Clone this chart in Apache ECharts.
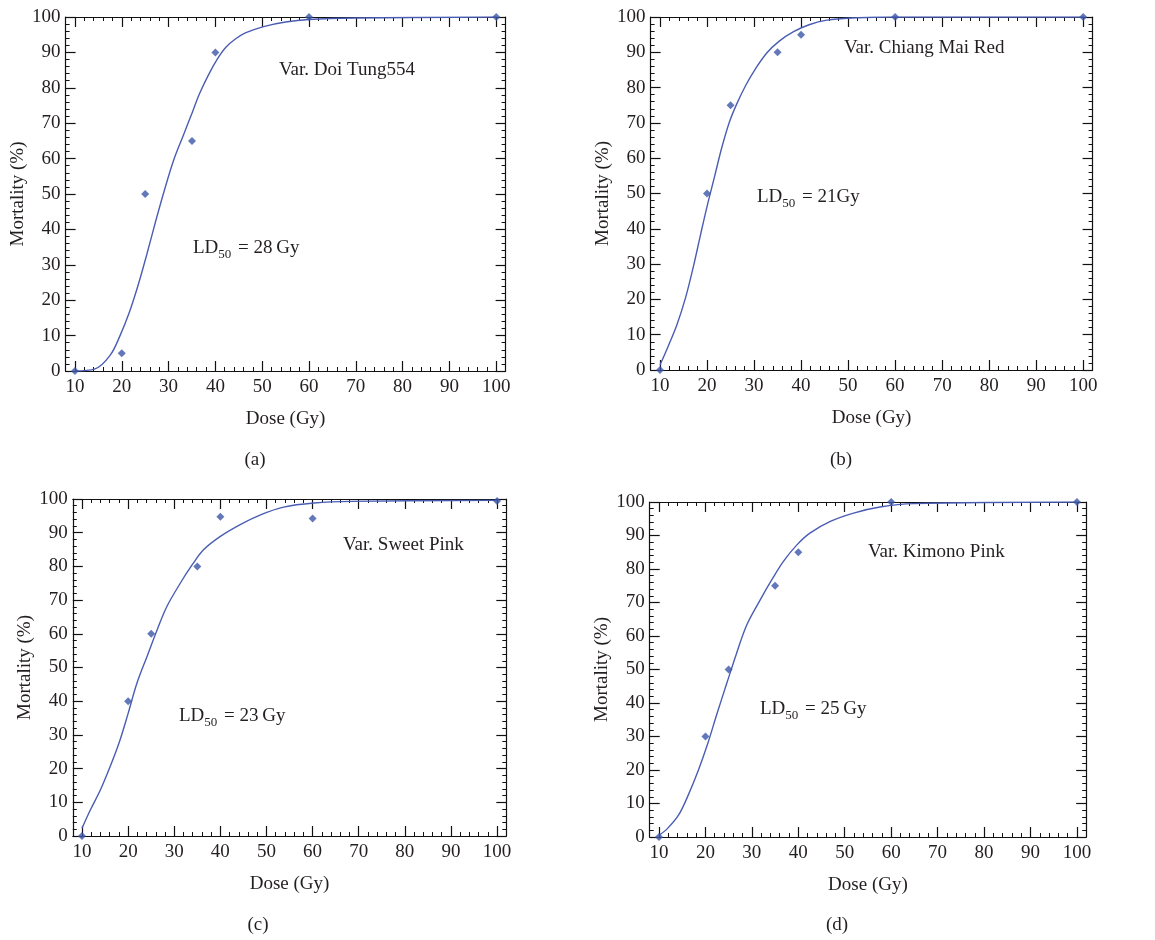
<!DOCTYPE html>
<html>
<head>
<meta charset="utf-8">
<script src="https://cdn.jsdelivr.net/npm/echarts@6/dist/echarts.min.js"></script>
<style>
html,body{margin:0;padding:0;background:#fff;}
#chart{width:1155px;height:940px;}
</style>
</head>
<body>
<div id="chart"></div>
<script>
// ---------- data ----------
const doses = [10, 20, 25, 35, 40, 60, 100];
const mortA = [0, 5, 50, 65, 90, 100, 100];
const mortB = [0, 50, 75, 90, 95, 100, 100];
const dosesC = [10, 20, 25, 35, 40, 60, 100];
const mortC = [0, 40, 60, 80, 94.7, 94.2, 99.4];
const mortD = [0, 30, 50, 75, 85, 100, 100];

// fitted curves
const curveAx = [10, 14.3, 17.5, 19.7, 21.6, 23.5, 25.4, 27.3, 29.2, 31.1, 33.1, 35, 36.6, 38.5, 40.5, 42.2, 44.2, 46.4, 50.3, 55, 60, 70, 100];
const curveAy = [0, 0.6, 4.4, 10.2, 16.5, 24.3, 33.2, 42.6, 51.5, 59.6, 66.4, 72.8, 78.3, 83.6, 88.3, 91.4, 93.7, 95.5, 97.3, 98.6, 99.3, 99.7, 100];
const curveBx = [10, 11.7, 13.6, 15.5, 17.1, 18.7, 20, 21.6, 23.2, 24.8, 26.4, 28.3, 30.2, 32.7, 35.3, 38.5, 41.7, 45.5, 50.6, 60, 100];
const curveBy = [1.4, 6.6, 12.8, 20.8, 29.3, 38.8, 46.3, 54.8, 63.3, 70.4, 75.6, 80.8, 85.1, 89.8, 93.1, 95.9, 97.8, 99.1, 99.7, 100, 100];
const curveCx = [10, 11.8, 14, 16.1, 18, 20, 21.9, 24.1, 26.3, 28.4, 31.3, 33.9, 36.4, 40, 44.3, 48.7, 53.7, 60.3, 68.2, 100];
const curveCy = [2.3, 7.7, 13.7, 20.6, 27.5, 36.4, 45.3, 53.3, 61.2, 68.1, 75, 80.5, 85, 88.9, 92.4, 95.3, 97.6, 98.8, 99.3, 99.6];
const curveDx = [10, 11.8, 14.2, 16.3, 18.5, 20.5, 22.4, 24.6, 26.7, 28.9, 31.8, 34.3, 36.8, 39.7, 42.5, 46.9, 51.9, 57.6, 64.8, 100];
const curveDy = [0.5, 2.5, 6.5, 12.5, 20, 27.9, 36.4, 45.9, 54.8, 63.3, 70.8, 76.8, 82.3, 87.2, 90.7, 94.2, 96.7, 98.5, 99.5, 100];

const xTicks = [10, 20, 30, 40, 50, 60, 70, 80, 90, 100];
const varieties = ['Var. Doi Tung554', 'Var. Chiang Mai Red', 'Var. Sweet Pink', 'Var. Kimono Pink'];
const ldValues = ['28\u2009Gy', '21Gy', '23\u2009Gy', '25\u2009Gy'];
const captions = ['(a)', '(b)', '(c)', '(d)'];
const xName = 'Dose (Gy)';
const yName = 'Mortality (%)';

// ---------- layout ----------
const FONT = '"Liberation Serif", "DejaVu Serif", serif';
const FS = 19;
const TXT = '#231f20';
const MARK = '#3b56a8';
const LINE = '#4a5db3';

const panels = [
  {grid: {left: 65.6, top: 17, width: 440, height: 354}, pts: [doses, mortA], cur: [curveAx, curveAy],
   varPos: [279, 70], ldPos: [193, 248], capPos: [255, 460]},
  {grid: {left: 650.6, top: 17, width: 442, height: 353}, pts: [doses, mortB], cur: [curveBx, curveBy],
   varPos: [844, 48], ldPos: [757, 197], capPos: [841, 460]},
  {grid: {left: 72.8, top: 499, width: 433.5, height: 337}, pts: [dosesC, mortC], cur: [curveCx, curveCy],
   varPos: [343, 545], ldPos: [179, 716], capPos: [258, 925]},
  {grid: {left: 649.7, top: 502, width: 436.5, height: 335}, pts: [doses, mortD], cur: [curveDx, curveDy],
   varPos: [868, 552], ldPos: [760, 709], capPos: [837, 925]}
];

const grids = [], xAxes = [], yAxes = [], series = [], graphics = [];
const axLine = {show: true, lineStyle: {color: '#111', width: 1.2}};
const lblStyle = {color: TXT, fontFamily: FONT, fontSize: FS};

panels.forEach((p, i) => {
  grids.push(Object.assign({containLabel: false}, p.grid));
  const xb = xAxes.length;
  // bottom major
  xAxes.push({type: 'value', gridIndex: i, position: 'bottom', min: 8, max: 102,
    axisLine: axLine, splitLine: {show: false},
    axisTick: {show: true, inside: true, length: 10, customValues: xTicks, lineStyle: {color: '#111', width: 1.2}},
    axisLabel: Object.assign({show: true, customValues: xTicks, margin: 7}, lblStyle),
    name: xName, nameLocation: 'middle', nameGap: 39, nameTextStyle: lblStyle});
  // bottom minor
  xAxes.push({type: 'value', gridIndex: i, position: 'bottom', min: 8, max: 102, interval: 2,
    axisLine: {show: false}, splitLine: {show: false}, axisLabel: {show: false},
    axisTick: {show: true, inside: true, length: 4, lineStyle: {color: '#111', width: 1}}});
  // top major
  xAxes.push({type: 'value', gridIndex: i, position: 'top', min: 8, max: 102,
    axisLine: axLine, splitLine: {show: false}, axisLabel: {show: false},
    axisTick: {show: true, inside: true, length: 10, customValues: xTicks, lineStyle: {color: '#111', width: 1.2}}});
  // top minor
  xAxes.push({type: 'value', gridIndex: i, position: 'top', min: 8, max: 102, interval: 2,
    axisLine: {show: false}, splitLine: {show: false}, axisLabel: {show: false},
    axisTick: {show: true, inside: true, length: 4, lineStyle: {color: '#111', width: 1}}});

  const yb = yAxes.length;
  const yCommon = {type: 'value', gridIndex: i, min: 0, max: 100, interval: 10,
    axisLine: axLine, splitLine: {show: false},
    axisTick: {show: true, inside: true, length: 10, lineStyle: {color: '#111', width: 1.2}},
    minorTick: {show: true, splitNumber: 5, length: 4, lineStyle: {color: '#111', width: 1}},
    minorSplitLine: {show: false}};
  yAxes.push(Object.assign({}, yCommon, {position: 'left',
    axisLabel: Object.assign({show: true, margin: 5}, lblStyle),
    name: yName, nameLocation: 'middle', nameGap: 38, nameTextStyle: lblStyle}));
  yAxes.push(Object.assign({}, yCommon, {position: 'right', axisLabel: {show: false}}));

  const cx = p.cur[0], cy = p.cur[1];
  series.push({type: 'line', xAxisIndex: xb, yAxisIndex: yb, data: cx.map((x, k) => [x, cy[k]]),
    showSymbol: false, symbol: 'none', smooth: 0.35, lineStyle: {color: LINE, width: 1.4}, z: 2, silent: true});
  const px = p.pts[0], py = p.pts[1];
  series.push({type: 'scatter', xAxisIndex: xb, yAxisIndex: yb, data: px.map((x, k) => [x, py[k]]),
    symbol: 'diamond', symbolSize: 8, itemStyle: {color: MARK}, z: 3, silent: true});

  graphics.push({type: 'text', x: p.varPos[0], y: p.varPos[1],
    style: {text: varieties[i], fill: TXT, font: FS + 'px ' + FONT, verticalAlign: 'middle', align: 'left'}});
  graphics.push({type: 'text', x: p.ldPos[0], y: p.ldPos[1],
    style: {text: '{n|LD}{s|50}{n| = ' + ldValues[i] + '}', fill: TXT, verticalAlign: 'middle', align: 'left',
      rich: {n: {fontFamily: FONT, fontSize: FS, color: TXT, lineHeight: 26, verticalAlign: 'middle'},
             s: {fontFamily: FONT, fontSize: 13, color: TXT, lineHeight: 26, verticalAlign: 'bottom', padding: [0, 2, 0, 0]}}}});
  graphics.push({type: 'text', x: p.capPos[0], y: p.capPos[1],
    style: {text: captions[i], fill: TXT, font: FS + 'px ' + FONT, verticalAlign: 'middle', align: 'center'}});
});

const chart = echarts.init(document.getElementById('chart'), null, {renderer: 'canvas'});
chart.setOption({
  backgroundColor: '#fff',
  animation: false,
  grid: grids,
  xAxis: xAxes,
  yAxis: yAxes,
  series: series,
  graphic: graphics
});
</script>
</body>
</html>
